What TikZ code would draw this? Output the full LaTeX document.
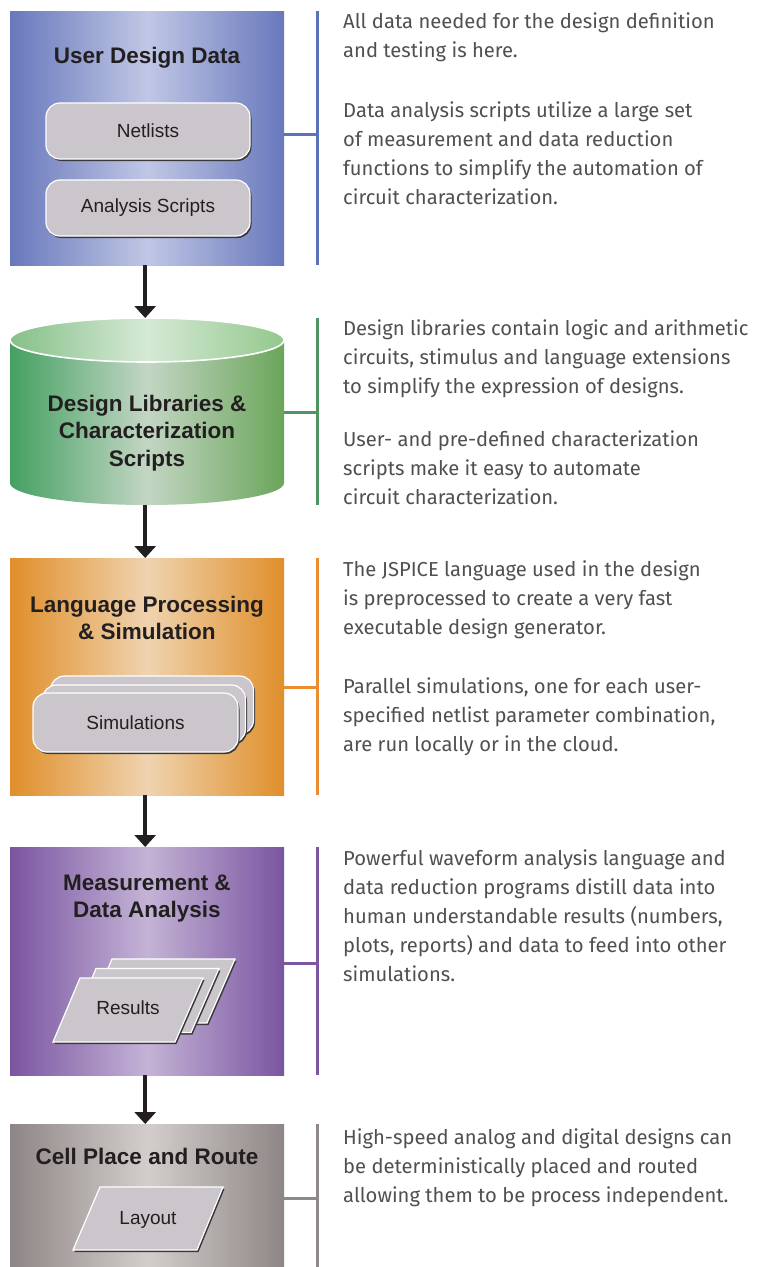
\documentclass[tikz,border=0pt]{standalone}
\usepackage{fontspec}
\setmainfont{Liberation Sans}
\newfontfamily\descfont{Fira Sans}
\usetikzlibrary{arrows.meta}

\definecolor{ink}{HTML}{231F20}
\definecolor{descgray}{HTML}{505052}
\definecolor{chip}{HTML}{CBC6CB}
\definecolor{chipshadow}{HTML}{3A3838}
% stage colours: edge, middle, rail
\definecolor{blueE}{HTML}{6878BC}
\definecolor{blueM}{HTML}{C0C7E5}
\definecolor{blueR}{HTML}{5A72B8}
\definecolor{greenL}{HTML}{44A062}
\definecolor{greenM}{HTML}{C3D6C4}
\definecolor{greenR}{HTML}{6BA55A}
\definecolor{greenTL}{HTML}{86C088}
\definecolor{greenTM}{HTML}{D6E9D6}
\definecolor{greenTR}{HTML}{93C88C}
\definecolor{greenRail}{HTML}{4F9463}
\definecolor{orangeE}{HTML}{E08F2A}
\definecolor{orangeM}{HTML}{EFD3B0}
\definecolor{orangeR}{HTML}{EC8D35}
\definecolor{purpleE}{HTML}{7A55A0}
\definecolor{purpleM}{HTML}{C4B3D6}
\definecolor{purpleR}{HTML}{7D56A3}
\definecolor{grayE}{HTML}{8E8686}
\definecolor{grayM}{HTML}{D3CECB}
\definecolor{grayR}{HTML}{8E8889}

\begin{document}
\begin{tikzpicture}[x=1pt,y=-1pt,
  stage/.style={rectangle, inner sep=0pt, minimum width=274pt, anchor=north west},
  title/.style={font=\bfseries\fontsize{22.5}{27.5}\selectfont, text=ink, align=center, inner sep=0pt},
  chiptext/.style={font=\fontsize{19}{22}\selectfont, text=ink},
  pill/.style={chiptext, rectangle, rounded corners=14pt, minimum width=204pt, minimum height=56pt,
    fill=chip, draw=white, line width=1.2pt,
    preaction={fill=chipshadow, transform canvas={shift={(1.5pt,-2pt)}}}},
  para/.style={fill=chip, draw=white, line width=1.2pt,
    preaction={fill=chipshadow, transform canvas={shift={(1.5pt,-2pt)}}}},
  flow/.style={draw=ink, line width=3.6pt, -{Triangle[width=21pt,length=12pt]}},
  rail/.style={draw=#1, line width=3pt},
  desc/.style={anchor=north west, align=left, inner sep=0pt, text=descgray,
    font=\descfont\fontsize{20.2}{29}\selectfont}
]
\useasboundingbox (0,0) rectangle (764,1267);
\fill[white] (0,0) rectangle (764,1267);

% ---------- stage 1: user design data ----------
\node[stage, minimum height=254pt, left color=blueE, right color=blueE, middle color=blueM] (b1) at (10,11) {};
\node[title] (t1) at (147,58) {User Design Data};
\node[pill] (net) at (148,131) {Netlists};
\node[pill] (ana) at (148,208) {Analysis Scripts};

% ---------- stage 2: design libraries (cylinder) ----------
\node[stage, minimum height=187pt] (b2) at (10,318) {};
\shade[left color=greenL, right color=greenR, middle color=greenM]
  (10,340) -- (10,483) .. controls (10,495.2) and (71.3,505) .. (147,505)
  .. controls (222.7,505) and (284,495.2) .. (284,483) -- (284,340) -- cycle;
\shade[left color=greenTL, right color=greenTR, middle color=greenTM]
  (147,340) ellipse [x radius=137pt, y radius=22pt];
\draw[white, line width=1.6pt] (147,340) ellipse [x radius=137pt, y radius=22pt];
\node[title] (t2) at (147,433) {Design Libraries \&\\Characterization\\Scripts};

% ---------- stage 3: language processing ----------
\node[stage, minimum height=237pt, left color=orangeE, right color=orangeE, middle color=orangeM] (b3) at (10,558) {};
\node[title] (t3) at (147,618) {Language Processing\\\& Simulation};
\node[pill, minimum width=203pt, minimum height=58pt] (sim3) at (152,705) {};
\node[pill, minimum width=203pt, minimum height=58pt] (sim2) at (144,714) {};
\node[pill, minimum width=205pt, minimum height=59pt] (sim) at (135.5,722.5) {Simulations};

% ---------- stage 4: measurement ----------
\node[stage, minimum height=228pt, left color=purpleE, right color=purpleE, middle color=purpleM] (b4) at (10,847) {};
\node[title] (t4) at (147,898.5) {Measurement \&\\Data Analysis};
\begin{scope}[shift={(32,-19)}]
  \path[para] (80,978) -- (203,978) -- (175,1042) -- (53,1042) -- cycle;
\end{scope}
\begin{scope}[shift={(16,-9.5)}]
  \path[para] (80,978) -- (203,978) -- (175,1042) -- (53,1042) -- cycle;
\end{scope}
\path[para] (80,978) -- (203,978) -- (175,1042) -- (53,1042) -- cycle;
\node[chiptext] (res) at (128,1008) {Results};

% ---------- stage 5: place and route ----------
\node[stage, minimum height=143pt, left color=grayE, right color=grayE, middle color=grayM] (b5) at (10,1124) {};
\node[title] (t5) at (147,1156) {Cell Place and Route};
\path[para] (100,1187) -- (223,1187) -- (197,1250) -- (73,1250) -- cycle;
\node[chiptext] (lay) at (148,1220) {Layout};

% ---------- flow arrows ----------
\draw[flow] ([xshift=-2pt]b1.south) -- ([xshift=-2pt]b2.north);
\draw[flow] ([xshift=-2pt]b2.south) -- ([xshift=-2pt]b3.north);
\draw[flow] ([xshift=-2pt]b3.south) -- ([xshift=-2pt]b4.north);
\draw[flow] ([xshift=-2pt]b4.south) -- ([xshift=-2pt]b5.north);

% ---------- brackets to the descriptions ----------
\coordinate (s1) at (317,134);
\coordinate (s2) at (317,412);
\coordinate (s3) at (317,687);
\coordinate (s4) at (317,963);
\coordinate (s5) at (317,1198);
\draw[rail=blueR] (b1.north -| s1) -- (b1.south -| s1);
\draw[rail=blueR] (b1.east |- s1) -- (s1);
\draw[rail=greenRail] (b2.north -| s2) -- (b2.south -| s2);
\draw[rail=greenRail] (b2.east |- s2) -- (s2);
\draw[rail=orangeR] (b3.north -| s3) -- (b3.south -| s3);
\draw[rail=orangeR] (b3.east |- s3) -- (s3);
\draw[rail=purpleR] (b4.north -| s4) -- (b4.south -| s4);
\draw[rail=purpleR] (b4.east |- s4) -- (s4);
\draw[rail=grayR] (b5.north -| s5) -- (b5.south -| s5);
\draw[rail=grayR] (b5.east |- s5) -- (s5);

% ---------- descriptions ----------
\node[desc] (d1a) at (343,8) {\rule{0pt}{20pt}All data needed for the design definition\\and testing is here.};
\node[desc] (d1b) at (343,97) {\rule{0pt}{20pt}Data analysis scripts utilize a large set\\of measurement and data reduction\\functions to simplify the automation of\\circuit characterization.};
\node[desc] (d2a) at (343,315) {\rule{0pt}{20pt}Design libraries contain logic and arithmetic\\circuits, stimulus and language extensions\\to simplify the expression of designs.};
\node[desc] (d2b) at (343,426) {\rule{0pt}{20pt}User- and pre-defined characterization\\scripts make it easy to automate\\circuit characterization.};
\node[desc] (d3a) at (343,556) {\rule{0pt}{20pt}The JSPICE language used in the design\\is preprocessed to create a very fast\\executable design generator.};
\node[desc] (d3b) at (343,673) {\rule{0pt}{20pt}Parallel simulations, one for each user-\\specified netlist parameter combination,\\are run locally or in the cloud.};
\node[desc] (d4) at (343,845) {\rule{0pt}{20pt}Powerful waveform analysis language and\\data reduction programs distill data into\\human understandable results (numbers,\\plots, reports) and data to feed into other\\simulations.};
\node[desc] (d5) at (343,1124) {\rule{0pt}{20pt}High-speed analog and digital designs can\\be deterministically placed and routed\\allowing them to be process independent.};
\end{tikzpicture}
\end{document}
